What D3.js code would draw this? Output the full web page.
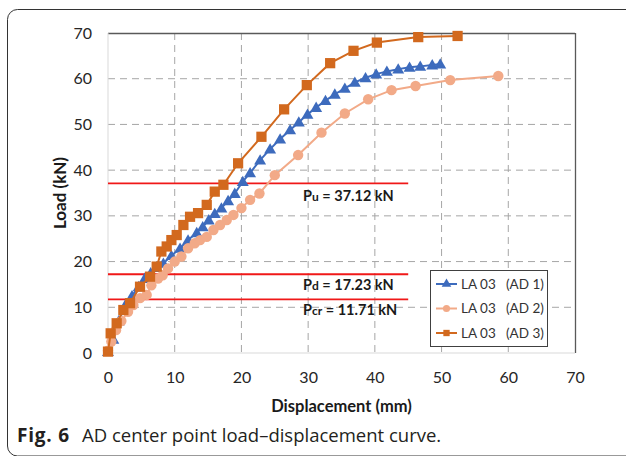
<!DOCTYPE html>
<html><head><meta charset="utf-8">
<script src="https://cdn.jsdelivr.net/npm/d3@7/dist/d3.min.js"></script>
<style>body{margin:0;background:#fff;}svg{display:block;}</style>
</head><body>
<svg id="c" width="626" height="456"></svg>
<script>
const xTicks = [0,10,20,30,40,50,60,70];
const yTicks = [0,10,20,30,40,50,60,70];

const ad1X = [0, 0.8, 1.6, 2.6, 3.6, 4.6, 5.5, 6.4, 7.3, 8.3, 9.5, 10.8, 12.0, 13.3, 14.2, 15.1, 16.0, 17.0, 18.0, 19.0, 20.2, 21.3, 22.8, 24.3, 25.8, 27.3, 28.6, 29.9, 31.2, 32.6, 34.0, 35.5, 37.0, 38.6, 40.2, 41.8, 43.5, 45.2, 46.8, 48.6, 49.8];
const ad1Y = [0.3, 3, 7, 10.5, 12.5, 14.5, 16.3, 17.5, 18.7, 19.6, 21.3, 22.9, 24.7, 26.3, 27.6, 29.1, 30.5, 31.7, 33.3, 34.9, 37.5, 39.4, 42.2, 44.6, 46.8, 48.8, 50.5, 52.2, 53.7, 55.2, 56.6, 57.9, 59.2, 60.2, 61.0, 61.6, 62.1, 62.5, 62.7, 63.0, 63.2];

const ad2X = [0, 0.5, 1.2, 2.0, 3.0, 3.8, 4.8, 5.8, 6.5, 7.5, 8.2, 9.0, 10.0, 11.0, 12.0, 13.0, 13.8, 14.8, 15.8, 16.8, 17.8, 18.8, 20.0, 21.3, 22.7, 25.0, 28.5, 32.0, 35.5, 39.0, 42.5, 46.1, 51.3, 58.5];
const ad2Y = [0.5, 2.5, 5.0, 7.0, 9.0, 10.5, 12.0, 12.7, 14.8, 16.3, 17.0, 18.5, 20.0, 21.1, 22.9, 24.0, 24.7, 25.4, 26.9, 28.0, 29.1, 30.2, 31.7, 33.5, 34.9, 38.9, 43.3, 48.2, 52.4, 55.5, 57.5, 58.4, 59.7, 60.6];

const ad3X = [0, 0.4, 1.3, 2.3, 3.3, 4.8, 6.3, 7.3, 8.0, 8.8, 9.5, 10.3, 11.3, 12.3, 13.5, 14.8, 16.0, 17.3, 19.5, 23.0, 26.4, 29.8, 33.3, 36.8, 40.3, 46.5, 52.4];
const ad3Y = [0.3, 4.3, 6.5, 9.4, 10.9, 14.5, 16.7, 18.9, 22.2, 23.3, 24.7, 25.8, 28, 29.8, 30.6, 32.4, 35.3, 36.8, 41.5, 47.3, 53.3, 58.6, 63.4, 66.1, 67.9, 69.1, 69.35];

const seriesNames = ["LA 03", "LA 03", "LA 03"];
const seriesTags = ["(AD 1)", "(AD 2)", "(AD 3)"];
const seriesColors = ["#3d6bbd", "#f2aa88", "#d2691e"];
const seriesSymbols = ["triangle", "circle", "square"];

const refValues = [37.12, 17.23, 11.71];
const refMain = ["P", "P", "P"];
const refSub = ["u", "d", "cr"];
const refRest = [" = 37.12 kN", " = 17.23 kN", " = 11.71 kN"];
const refEnd = 45;

const caption1 = "Fig. 6";
const caption2 = "AD center point load\u2013displacement curve.";

const svg = d3.select("#c");
const font = "Lato, 'Open Sans', sans-serif";

// frame
svg.append("rect").attr("x",7.5).attr("y",9.5).attr("width",700).attr("height",446.5)
  .attr("rx",10).attr("fill","none").attr("stroke","#333").attr("stroke-width",1);

const L=108, R=575, T=33, B=353;
const x = d3.scaleLinear().domain([0,70]).range([L,R]);
const y = d3.scaleLinear().domain([0,70]).range([B,T]);

// grid
svg.append("g").selectAll("line").data(xTicks.filter(d=>d>0&&d<70)).join("line")
  .attr("x1",d=>x(d)).attr("x2",d=>x(d)).attr("y1",T).attr("y2",B)
  .attr("stroke","#a6a6a6").attr("stroke-width",1).attr("stroke-dasharray","7,5");
svg.append("g").selectAll("line").data(yTicks.filter(d=>d>0&&d<70)).join("line")
  .attr("x1",L).attr("x2",R).attr("y1",d=>y(d)).attr("y2",d=>y(d))
  .attr("stroke","#a6a6a6").attr("stroke-width",1).attr("stroke-dasharray","7,5");

// borders
svg.append("line").attr("x1",L).attr("x2",R).attr("y1",T+0.5).attr("y2",T+0.5).attr("stroke","#595959").attr("stroke-width",1.3);
svg.append("line").attr("x1",R+0.5).attr("x2",R+0.5).attr("y1",T).attr("y2",B).attr("stroke","#595959").attr("stroke-width",1.3);
svg.append("line").attr("x1",L).attr("x2",L).attr("y1",T).attr("y2",B).attr("stroke","#d9d9d9").attr("stroke-width",1);
svg.append("line").attr("x1",L).attr("x2",R).attr("y1",B).attr("y2",B).attr("stroke","#d9d9d9").attr("stroke-width",1);

// axes (labels only)
const xAxis = d3.axisBottom(x).tickValues(xTicks).tickSize(0).tickPadding(19);
const gx = svg.append("g").attr("transform",`translate(0,${B})`).call(xAxis);
const yAxis = d3.axisLeft(y).tickValues(yTicks).tickSize(0).tickPadding(16);
const gy = svg.append("g").attr("transform",`translate(${L},0)`).call(yAxis);
[gx,gy].forEach(g=>{g.select(".domain").remove();
  g.selectAll("text").attr("font-family",font).attr("font-size",16).attr("fill","#262626");});

// reference lines
const refG = svg.append("g");
refValues.forEach((v,i)=>{
  refG.append("line").attr("x1",x(0)).attr("x2",x(refEnd)).attr("y1",y(v)).attr("y2",y(v))
    .attr("stroke","#f01818").attr("stroke-width",1.8);
});
const labelOffsets = [18, 16, 16];
refValues.forEach((v,i)=>{
  const t = refG.append("text").attr("x",303).attr("y",y(v)+labelOffsets[i])
    .attr("font-family",font).attr("font-weight","bold").attr("font-size",14.5).attr("fill","#1a1a1a");
  t.append("tspan").text(refMain[i]);
  t.append("tspan").attr("font-size",12).text(refSub[i]);
  t.append("tspan").text(refRest[i]);
});

// series
const series = [
  {xs:ad1X, ys:ad1Y},
  {xs:ad2X, ys:ad2Y},
  {xs:ad3X, ys:ad3Y}
];
const symMap = {triangle:d3.symbolTriangle, circle:d3.symbolCircle, square:d3.symbolSquare};
const symSize = {triangle:62, circle:85, square:105};
const line = d3.line().x(d=>x(d[0])).y(d=>y(d[1]));
series.forEach((s,i)=>{
  const pts = s.xs.map((v,j)=>[v,s.ys[j]]);
  const g = svg.append("g");
  g.append("path").attr("d",line(pts)).attr("fill","none").attr("stroke",seriesColors[i]).attr("stroke-width",2);
  const sym = d3.symbol().type(symMap[seriesSymbols[i]]).size(symSize[seriesSymbols[i]]);
  g.selectAll("path.m").data(pts).join("path").attr("class","m")
    .attr("transform",d=>`translate(${x(d[0])},${y(d[1]) + (seriesSymbols[i]==="triangle"?1:0)})`)
    .attr("d",sym).attr("fill",seriesColors[i]);
});

// legend
const lg = svg.append("g");
lg.append("rect").attr("x",430.5).attr("y",270.5).attr("width",117).attr("height",76)
  .attr("fill","#fff").attr("stroke","#404040").attr("stroke-width",1);
const rowsY = [284, 308.5, 333];
seriesNames.forEach((n,i)=>{
  lg.append("line").attr("x1",436).attr("x2",457).attr("y1",rowsY[i]).attr("y2",rowsY[i])
    .attr("stroke",seriesColors[i]).attr("stroke-width",2);
  lg.append("path").attr("transform",`translate(446.5,${rowsY[i]})`)
    .attr("d",d3.symbol().type(symMap[seriesSymbols[i]]).size(40)).attr("fill",seriesColors[i]);
  lg.append("text").attr("x",461).attr("y",rowsY[i]+4.5).attr("font-family",font).attr("font-size",13.5)
    .attr("fill","#333").text(n);
  lg.append("text").attr("x",506).attr("y",rowsY[i]+4.5).attr("font-family",font).attr("font-size",13.5)
    .attr("fill","#333").text(seriesTags[i]);
});

// axis titles
svg.append("text").attr("x",(L+R)/2).attr("y",412).attr("text-anchor","middle")
  .attr("font-family",font).attr("font-weight","bold").attr("font-size",16.5).attr("fill","#1a1a1a")
  .text("Displacement (mm)");
svg.append("text").attr("transform","translate(66,193) rotate(-90)").attr("text-anchor","middle")
  .attr("font-family",font).attr("font-weight","bold").attr("font-size",17).attr("fill","#1a1a1a")
  .text("Load (kN)");

// caption
const cap = svg.append("text").attr("x",17).attr("y",442).attr("font-family","'Open Sans', 'Noto Sans', sans-serif")
  .attr("font-size",18.5).attr("fill","#231f20");
cap.append("tspan").attr("font-weight","bold").attr("font-size",19).attr("letter-spacing",0.8).text(caption1);
cap.append("tspan").attr("x",82).text(caption2);
</script>
</body></html>
